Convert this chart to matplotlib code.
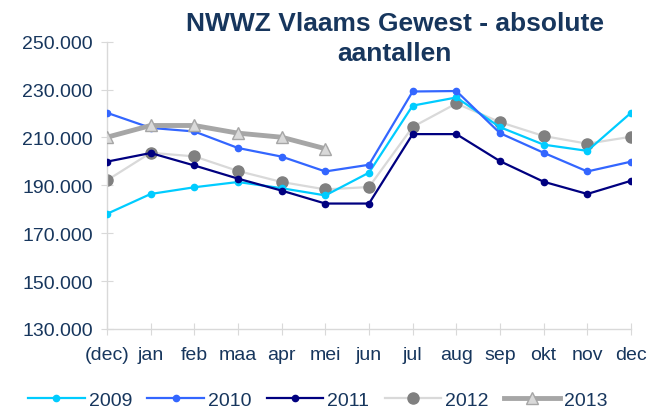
import matplotlib
matplotlib.use("Agg")
import matplotlib.pyplot as plt

months = ["(dec)", "jan", "feb", "maa", "apr", "mei", "jun", "jul", "aug", "sep", "okt", "nov", "dec"]
y2009 = [178.1, 186.4, 189.2, 191.4, 188.8, 185.8, 195.3, 223.3, 226.7, 214.3, 207.0, 204.4, 220.3]
y2010 = [220.3, 214.0, 212.5, 205.6, 202.0, 195.8, 198.6, 229.2, 229.4, 211.8, 203.6, 195.8, 199.9]
y2011 = [199.9, 203.5, 198.3, 192.8, 187.8, 182.4, 182.4, 211.4, 211.4, 200.1, 191.5, 186.4, 191.9]
y2012 = [192.1, 203.6, 202.1, 196.0, 191.4, 188.3, 189.3, 214.4, 224.2, 216.4, 210.6, 207.4, 210.3]
y2013 = [210.1, 215.0, 215.0, 211.8, 210.1, 205.3]
yticks = [130, 150, 170, 190, 210, 230, 250]
ytick_labels = ["130.000", "150.000", "170.000", "190.000", "210.000", "230.000", "250.000"]

navy_text = "#17365D"
plt.rcParams['font.family'] = ['Liberation Sans', 'DejaVu Sans']

fig = plt.figure(figsize=(6.49, 4.10), dpi=100)
ax = fig.add_axes([107/649, 80/410, (631-107)/649, (330-42.7)/410])

x = list(range(len(months)))
ax.plot(x, y2009, color="#00CCFF", lw=1.6, marker="o", ms=4.5, label="2009", zorder=3)
ax.plot(x, y2010, color="#3366FF", lw=1.6, marker="o", ms=4.5, label="2010", zorder=3)
ax.plot(x, y2011, color="#000080", lw=1.6, marker="o", ms=4.5, label="2011", zorder=3)
ax.plot(x, y2012, color="#D9D9D9", lw=1.6, marker="o", ms=8, mfc="#808080", mec="#808080",
        label="2012", zorder=2)
ax.plot(x[:len(y2013)], y2013, color="#A6A6A6", lw=3.5, marker="^", ms=9, mfc="#D9D9D9",
        mec="#A6A6A6", mew=1, label="2013", zorder=4)

ax.set_xlim(0, 12)
ax.set_ylim(130, 250)
ax.set_yticks(yticks)
ax.set_yticklabels(ytick_labels)
ax.set_xticks(x)
ax.set_xticklabels(months)
for s in ["top", "right"]:
    ax.spines[s].set_visible(False)
for s in ["left", "bottom"]:
    ax.spines[s].set_color("#D9D9D9")
    ax.spines[s].set_linewidth(1)
ax.tick_params(axis="both", direction="inout", length=8, color="#D9D9D9",
               labelsize=14, labelcolor=navy_text)
ax.tick_params(axis="x", pad=8)
ax.tick_params(axis="y", pad=6)

fig.text(0.608, 0.97, "NWWZ Vlaams Gewest - absolute\naantallen", ha="center", va="top",
         fontsize=19, fontweight="bold", color=navy_text, linespacing=1.3)

leg = fig.legend(loc="center", bbox_to_anchor=(0.49, 0.022), ncol=5, frameon=False,
                 fontsize=14, handlelength=2.9, handletextpad=0.2, columnspacing=0.8,
                 borderaxespad=0)
for t in leg.get_texts():
    t.set_color(navy_text)

fig.savefig("out.png", dpi=100)
